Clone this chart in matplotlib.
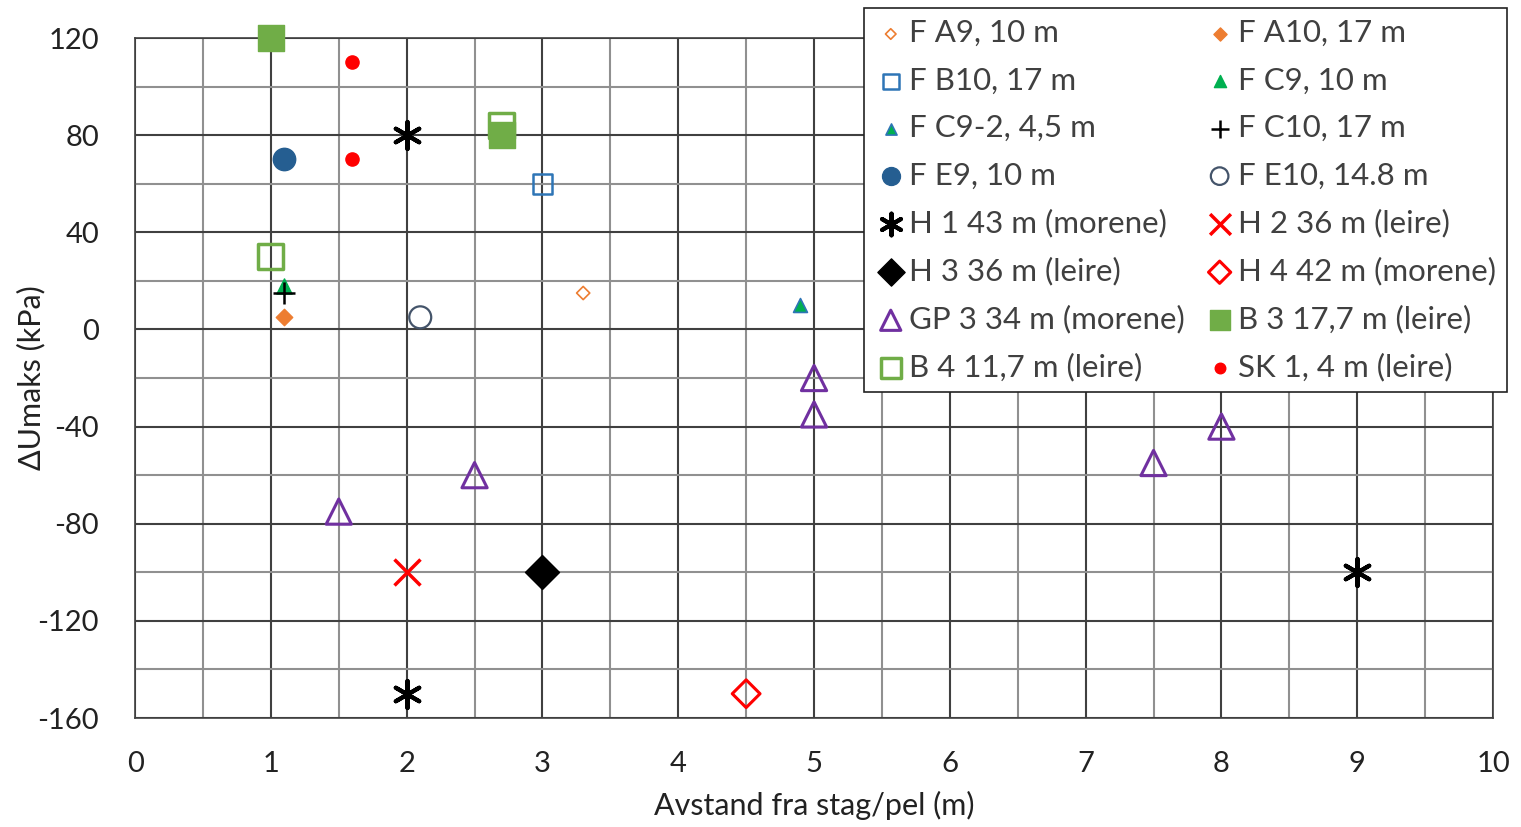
import matplotlib.pyplot as plt
from matplotlib.ticker import MultipleLocator

plt.rcParams['font.family'] = ['Lato', 'DejaVu Sans']
plt.rcParams['axes.unicode_minus'] = False

# data
fa9_x, fa9_y = [3.3], [15]
fa10_x, fa10_y = [1.1], [5]
fb10_x, fb10_y = [3.0], [60]
fc9_x, fc9_y = [1.1], [18]
fc92_x, fc92_y = [4.9], [10]
fc10_x, fc10_y = [1.1], [15]
fe9_x, fe9_y = [1.1], [70]
fe10_x, fe10_y = [2.1], [5]
h1_x, h1_y = [2, 2, 9], [80, -150, -100]
h2_x, h2_y = [2], [-100]
h3_x, h3_y = [3], [-100]
h4_x, h4_y = [4.5], [-150]
gp3_x = [1.5, 2.5, 5, 5, 7.5, 8]
gp3_y = [-75, -60, -20, -35, -55, -40]
b3_x, b3_y = [1, 2.7], [120, 80]
b4_x, b4_y = [1, 2.7], [30, 84]
sk1_x, sk1_y = [1.6, 1.6], [110, 70]

fig = plt.figure(figsize=(15.21, 8.27), dpi=100)
ax = fig.add_axes([0.0888, 0.1318, 0.8928, 0.8222])

orange = '#ED7D31'
blue = '#2E75B6'
green = '#00B050'
lgreen = '#70AD47'
dblue = '#255E91'
purple = '#7030A0'

kw = dict(zorder=3, clip_on=False)
ax.scatter(fa9_x, fa9_y, marker='D', s=45, facecolors='none', edgecolors=orange, linewidths=1.2, label='F A9, 10 m', **kw)
ax.scatter(fa10_x, fa10_y, marker='D', s=70, color=orange, label='F A10, 17 m', **kw)
ax.scatter(fb10_x, fb10_y, marker='s', s=200, facecolors='none', edgecolors=blue, linewidths=1.8, label='F B10, 17 m', **kw)
ax.scatter(fc9_x, fc9_y, marker='^', s=120, color=green, label='F C9, 10 m', **kw)
ax.scatter(fc92_x, fc92_y, marker='^', s=100, facecolors=green, edgecolors=blue, linewidths=1.2, label='F C9-2, 4,5 m', **kw)
ax.scatter(fc10_x, fc10_y, marker='+', s=250, color='black', linewidths=1.8, label='F C10, 17 m', zorder=4)
ax.scatter(fe9_x, fe9_y, marker='o', s=260, color=dblue, label='F E9, 10 m', **kw)
ax.scatter(fe10_x, fe10_y, marker='o', s=250, facecolors='none', edgecolors='#44546A', linewidths=1.6, label='F E10, 14.8 m', **kw)
ax.scatter(h1_x, h1_y, marker=(6, 2, 0), s=380, color='black', linewidths=3, label='H 1 43 m (morene)', **kw)
ax.scatter(h2_x, h2_y, marker='x', s=350, color='#FF0000', linewidths=2.5, label='H 2 36 m (leire)', **kw)
ax.scatter(h3_x, h3_y, marker='D', s=300, color='black', label='H 3 36 m (leire)', **kw)
ax.scatter(h4_x, h4_y, marker='D', s=200, facecolors='none', edgecolors='#FF0000', linewidths=2.2, label='H 4 42 m (morene)', **kw)
ax.scatter(gp3_x, gp3_y, marker='^', s=330, facecolors='none', edgecolors=purple, linewidths=2.2, label='GP 3 34 m (morene)', **kw)
ax.scatter(b3_x, b3_y, marker='s', s=330, color=lgreen, label='B 3 17,7 m (leire)', **kw)
ax.scatter(b4_x, b4_y, marker='s', s=330, facecolors='none', edgecolors=lgreen, linewidths=2.5, label='B 4 11,7 m (leire)', zorder=4, clip_on=False)
ax.scatter(sk1_x, sk1_y, marker='o', s=90, color='#FF0000', label='SK 1, 4 m (leire)', **kw)

ax.set_xlim(0, 10)
ax.set_ylim(-160, 120)
ax.xaxis.set_major_locator(MultipleLocator(1))
ax.xaxis.set_minor_locator(MultipleLocator(0.5))
ax.yaxis.set_major_locator(MultipleLocator(40))
ax.yaxis.set_minor_locator(MultipleLocator(20))
ax.grid(which='major', color='#404040', linewidth=1.5)
ax.grid(which='minor', color='#909090', linewidth=1.5)
ax.set_axisbelow(True)
ax.tick_params(which='both', length=0, labelsize=21, colors='#222222')
ax.tick_params(axis='x', pad=24)
ax.tick_params(axis='y', pad=26)
for s in ax.spines.values():
    s.set_color('#404040')
    s.set_linewidth(1.2)

ax.set_xlabel('Avstand fra stag/pel (m)', fontsize=22, color='#222222', labelpad=10)
ax.set_ylabel('ΔUmaks (kPa)', fontsize=22, color='#222222')
ax.yaxis.set_label_coords(-0.066, 0.5)

# legend is filled row by row in the reference
handles, labels = ax.get_legend_handles_labels()
order = list(range(0, 16, 2)) + list(range(1, 16, 2))
leg = ax.legend([handles[i] for i in order], [labels[i] for i in order],
                ncol=2, loc='upper right', bbox_to_anchor=(0.991, 0.990), bbox_transform=fig.transFigure,
                borderaxespad=0, fontsize=22.5, frameon=True, fancybox=False, edgecolor='#222222', framealpha=1,
                handletextpad=0.1, columnspacing=0.6, labelspacing=0.62, handlelength=1.0,
                borderpad=0.35, markerscale=0.8)
leg.get_frame().set_linewidth(1.2)
for t in leg.get_texts():
    t.set_color('#404040')

fig.savefig('out.png', dpi=100)
